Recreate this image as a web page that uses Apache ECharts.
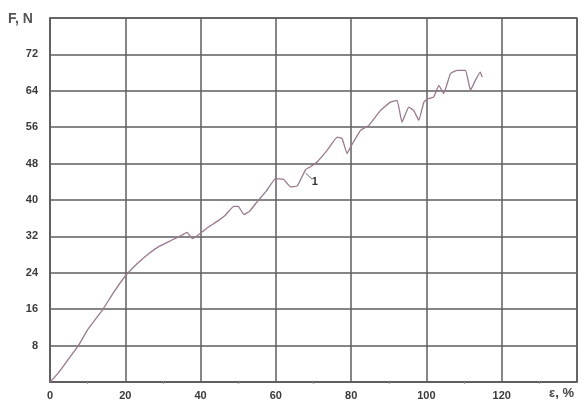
<!DOCTYPE html>
<html>
<head>
<meta charset="utf-8">
<script src="https://cdn.jsdelivr.net/npm/echarts@6/dist/echarts.min.js"></script>
<style>
  html, body { margin: 0; padding: 0; background: #fff; }
  #chart { width: 584px; height: 403px; }
</style>
</head>
<body>
<div id="chart"></div>
<script>
// Tensile test: force F (N) against elongation ε (%), curve 1
const strain = [0, 2, 4, 7.6, 10, 13.9, 17, 20, 23, 26.2, 29, 32.4, 35.1, 36.4, 37.8, 39.4,
  42, 44.4, 46.5, 48.8, 50, 51.5, 53, 55, 57.5, 59.9, 62.1, 63.9, 65.7, 67.9, 69.2, 71,
  73.6, 76.3, 77.6, 78.9, 79.8, 82.5, 84.7, 87.8, 90.4, 92.2, 93.5, 95.3, 96.6, 98, 99.3,
  100.2, 101.9, 103.3, 104.6, 106.4, 108.2, 110.4, 111.7, 113, 114.3, 114.8];
const force = [0, 1.8, 4.0, 8.1, 11.5, 15.8, 19.8, 23.3, 25.9, 28.2, 29.8, 31.2, 32.3, 32.9, 31.5, 32.3,
  34, 35.3, 36.6, 38.6, 38.6, 36.8, 37.5, 39.6, 42, 44.7, 44.5, 42.9, 43.1, 46.7, 47.3, 48.4,
  50.9, 53.8, 53.5, 50.2, 51.6, 55.3, 56.4, 59.7, 61.5, 61.9, 57.1, 60.4, 59.7, 57.5, 61.5,
  62.2, 62.6, 65.2, 63.4, 67.8, 68.5, 68.5, 64.1, 66.3, 68.1, 67.0];
const xTicks = [0, 20, 40, 60, 80, 100, 120];
const yTicks = [8, 16, 24, 32, 40, 48, 56, 64, 72];
const curveName = '1';
// leader for the curve label, in data units
const leaderFrom = [67.9, 45.9];
const leaderTo = [69.6, 44.6];

const gridColor = '#5e5e5e';
const labelFont = { color: '#3a3a3a', fontFamily: 'Liberation Sans, Arial, sans-serif', fontWeight: 'bold', fontSize: 11 };

const chart = echarts.init(document.getElementById('chart'), null, { renderer: 'canvas' });
chart.setOption({
  animation: false,
  backgroundColor: '#ffffff',
  grid: { left: 50, top: 18, right: 7, bottom: 21, show: true, borderColor: gridColor, borderWidth: 1.5 },
  xAxis: {
    type: 'value', min: 0, max: 140, interval: 20,
    axisLine: { show: true, onZero: false, lineStyle: { color: gridColor, width: 1.5 } },
    axisTick: { show: false },
    minorTick: { show: true, splitNumber: 2, length: 2, lineStyle: { color: '#999', width: 1 } },
    splitLine: { show: true, lineStyle: { color: gridColor, width: 1.5 } },
    axisLabel: Object.assign({ margin: 8,
      formatter: v => xTicks.includes(v) ? String(v) : '' }, labelFont)
  },
  yAxis: {
    type: 'value', min: 0, max: 80, interval: 8,
    axisLine: { show: true, lineStyle: { color: gridColor, width: 1.5 } },
    axisTick: { show: false },
    splitLine: { show: true, lineStyle: { color: gridColor, width: 1.5 } },
    axisLabel: Object.assign({ margin: 12,
      formatter: v => yTicks.includes(v) ? String(v) : '' }, labelFont)
  },
  graphic: [
    { type: 'text', left: 8, top: 12,
      style: { text: 'F, N', fill: '#555', font: 'bold 14px "Liberation Sans", Arial, sans-serif' } },
    { type: 'text', left: 549, top: 387,
      style: { text: 'ε, %', fill: '#444', font: 'bold 13px "Liberation Sans", Arial, sans-serif' } }
  ],
  series: [{
    type: 'line',
    data: strain.map((x, i) => [x, force[i]]),
    showSymbol: false,
    smooth: 0.1,
    lineStyle: { color: '#9a7890', width: 1.3 },
    markLine: {
      silent: true,
      symbol: 'none',
      lineStyle: { color: '#6a6a6a', width: 1, type: 'solid' },
      label: { show: true, position: 'end', formatter: curveName, distance: 4,
        color: '#333', fontWeight: 'bold', fontSize: 11, fontFamily: 'Liberation Sans, Arial, sans-serif' },
      data: [[{ coord: leaderFrom }, { coord: leaderTo }]]
    }
  }]
});
</script>
</body>
</html>
